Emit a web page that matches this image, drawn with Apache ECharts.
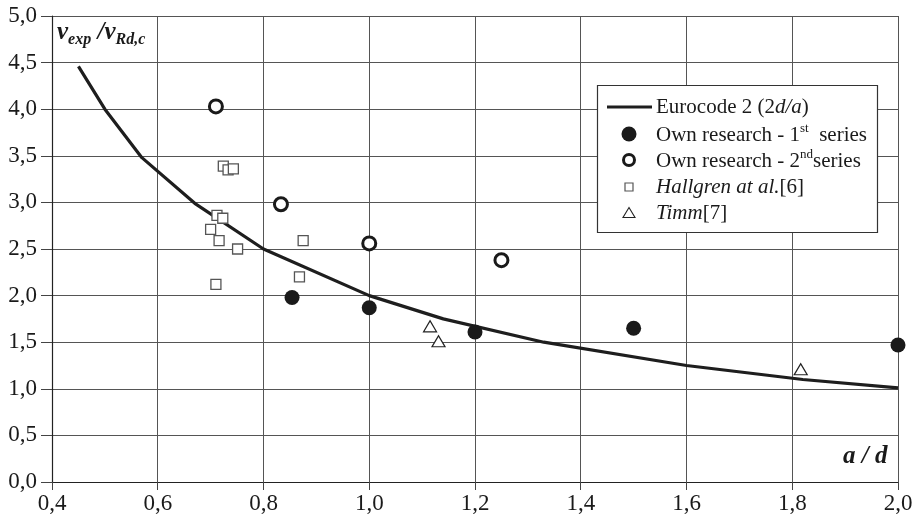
<!DOCTYPE html>
<html>
<head>
<meta charset="utf-8">
<script src="https://cdn.jsdelivr.net/npm/echarts@6/dist/echarts.min.js"></script>
<style>html,body{margin:0;padding:0;background:#fff}#c{width:920px;height:521px}</style>
</head>
<body>
<div id="c"></div>
<script>
// ---- data ----
const eurocodeX = [0.45, 0.50, 0.57, 0.67, 0.80, 1.00, 1.14, 1.33, 1.60, 1.82, 2.00];
const eurocodeY = [4.46, 4.00, 3.48, 2.99, 2.50, 2.00, 1.75, 1.50, 1.25, 1.10, 1.01];

const own1X = [0.854, 1.00, 1.20, 1.50, 2.00];
const own1Y = [1.98, 1.87, 1.61, 1.65, 1.47];

const own2X = [0.71, 0.833, 1.00, 1.25];
const own2Y = [4.03, 2.98, 2.56, 2.38];

const hallgrenX = [0.724, 0.733, 0.743, 0.712, 0.723, 0.700, 0.716, 0.751, 0.875, 0.868, 0.710];
const hallgrenY = [3.39, 3.35, 3.36, 2.86, 2.83, 2.71, 2.59, 2.50, 2.59, 2.20, 2.12];

const timmX = [1.115, 1.131, 1.816];
const timmY = [1.67, 1.51, 1.21];

const xMin = 0.4, xMax = 2.0, xStep = 0.2;
const yMin = 0.0, yMax = 5.0, yStep = 0.5;

function pairs(xs, ys) { return xs.map((x, i) => [x, ys[i]]); }
const fmt = v => v.toFixed(1).replace('.', ',');

const serif = '"Liberation Serif", "Times New Roman", serif';
const ink = '#1a1a1a';

const chart = echarts.init(document.getElementById('c'), null, {renderer: 'canvas'});

const rowY = [107, 134, 160, 187, 213];
const iconX = 629;
const textX = 656;
const legendFont = 21;

const option = {
  backgroundColor: '#fff',
  animation: false,
  textStyle: {fontFamily: serif},
  grid: {left: 52, right: 22, top: 16, bottom: 39, containLabel: false},
  xAxis: {
    type: 'value', min: xMin, max: xMax, interval: xStep,
    axisLine: {show: true, onZero: false, lineStyle: {color: '#222', width: 1.2}},
    axisTick: {show: true, length: 8, lineStyle: {color: '#444', width: 1}},
    axisLabel: {formatter: fmt, fontFamily: serif, fontSize: 23, color: ink, margin: 10},
    splitLine: {show: true, lineStyle: {color: '#555', width: 1}}
  },
  yAxis: {
    type: 'value', min: yMin, max: yMax, interval: yStep,
    axisLine: {show: true, onZero: false, lineStyle: {color: '#222', width: 1.2}},
    axisTick: {show: true, length: 11, lineStyle: {color: '#444', width: 1}},
    axisLabel: {formatter: fmt, fontFamily: serif, fontSize: 23, color: ink, margin: 15},
    splitLine: {show: true, lineStyle: {color: '#555', width: 1}}
  },
  series: [
    {
      name: 'Eurocode 2 (2d/a)', type: 'line', data: pairs(eurocodeX, eurocodeY),
      symbol: 'none', smooth: false,
      lineStyle: {color: '#1e1e1e', width: 3.2}, z: 3
    },
    {
      name: 'Hallgren at al.[6]', type: 'scatter', data: pairs(hallgrenX, hallgrenY),
      symbol: 'rect', symbolSize: 10,
      itemStyle: {color: '#fff', borderColor: '#555', borderWidth: 1.3, opacity: 1}, z: 4
    },
    {
      name: 'Timm[7]', type: 'scatter', data: pairs(timmX, timmY),
      symbol: 'triangle', symbolSize: [13, 11],
      itemStyle: {color: '#fff', borderColor: '#222', borderWidth: 1.2, opacity: 1}, z: 4
    },
    {
      name: 'Own research - 2nd series', type: 'scatter', data: pairs(own2X, own2Y),
      symbol: 'circle', symbolSize: 13,
      itemStyle: {color: '#fff', borderColor: '#1a1a1a', borderWidth: 3, opacity: 1}, z: 5
    },
    {
      name: 'Own research - 1st series', type: 'scatter', data: pairs(own1X, own1Y),
      symbol: 'circle', symbolSize: 15,
      itemStyle: {color: '#1a1a1a', opacity: 1}, z: 5
    }
  ],
  graphic: [
    // y axis title
    {
      type: 'text', left: 57, top: 20, z: 20,
      style: {
        text: '{v|v}{s|exp}{v| /v}{s|Rd,c}',
        rich: {
          v: {fontFamily: serif, fontSize: 25, fontWeight: 'bold', fontStyle: 'italic', fill: ink, lineHeight: 30, verticalAlign: 'middle'},
          s: {fontFamily: serif, fontSize: 16, fontWeight: 'bold', fontStyle: 'italic', fill: ink, lineHeight: 14, verticalAlign: 'bottom'}
        }
      }
    },
    // x axis title
    {
      type: 'text', left: 843, top: 444, z: 20,
      style: {text: 'a / d', fontFamily: serif, fontSize: 25, fontWeight: 'bold', fontStyle: 'italic', fill: ink}
    },
    // legend box
    {type: 'rect', z: 20, shape: {x: 597.5, y: 85.5, width: 280, height: 147},
     style: {fill: '#fff', stroke: '#333', lineWidth: 1.2}},
    {type: 'line', z: 21, shape: {x1: 607, y1: rowY[0], x2: 652, y2: rowY[0]},
     style: {stroke: '#1e1e1e', lineWidth: 3.2}},
    {type: 'circle', z: 21, shape: {cx: iconX, cy: rowY[1], r: 7.5}, style: {fill: '#1a1a1a'}},
    {type: 'circle', z: 21, shape: {cx: iconX, cy: rowY[2], r: 5.5}, style: {fill: '#fff', stroke: '#1a1a1a', lineWidth: 3}},
    {type: 'rect', z: 21, shape: {x: iconX - 4, y: rowY[3] - 4, width: 8, height: 8}, style: {fill: '#fff', stroke: '#555', lineWidth: 1.2}},
    {type: 'polygon', z: 21, shape: {points: [[iconX, rowY[4] - 5.5], [iconX + 6, rowY[4] + 4.5], [iconX - 6, rowY[4] + 4.5]]}, style: {fill: '#fff', stroke: '#222', lineWidth: 1.1}},
    {
      type: 'text', z: 21, x: textX, y: rowY[0],
      style: {text: '{n|Eurocode 2 (2}{i|d/a}{n|)}', verticalAlign: 'middle',
        rich: {n: {fontFamily: serif, fontSize: legendFont, fill: ink}, i: {fontFamily: serif, fontSize: legendFont, fontStyle: 'italic', fill: ink}}}
    },
    {
      type: 'text', z: 21, x: textX, y: rowY[1],
      style: {text: '{n|Own research - 1}{p|st}{n|  series}', verticalAlign: 'middle',
        rich: {n: {fontFamily: serif, fontSize: legendFont, fill: ink, lineHeight: 24, verticalAlign: 'bottom'},
               p: {fontFamily: serif, fontSize: 13, fill: ink, lineHeight: 13, verticalAlign: 'top'}}}
    },
    {
      type: 'text', z: 21, x: textX, y: rowY[2],
      style: {text: '{n|Own research - 2}{p|nd}{n|series}', verticalAlign: 'middle',
        rich: {n: {fontFamily: serif, fontSize: legendFont, fill: ink, lineHeight: 24, verticalAlign: 'bottom'},
               p: {fontFamily: serif, fontSize: 13, fill: ink, lineHeight: 13, verticalAlign: 'top'}}}
    },
    {
      type: 'text', z: 21, x: textX, y: rowY[3],
      style: {text: '{i|Hallgren at al.}{n|[6]}', verticalAlign: 'middle',
        rich: {n: {fontFamily: serif, fontSize: legendFont, fill: ink}, i: {fontFamily: serif, fontSize: legendFont, fontStyle: 'italic', fill: ink}}}
    },
    {
      type: 'text', z: 21, x: textX, y: rowY[4],
      style: {text: '{i|Timm}{n|[7]}', verticalAlign: 'middle',
        rich: {n: {fontFamily: serif, fontSize: legendFont, fill: ink}, i: {fontFamily: serif, fontSize: legendFont, fontStyle: 'italic', fill: ink}}}
    }
  ]
};
chart.setOption(option);
</script>
</body>
</html>
